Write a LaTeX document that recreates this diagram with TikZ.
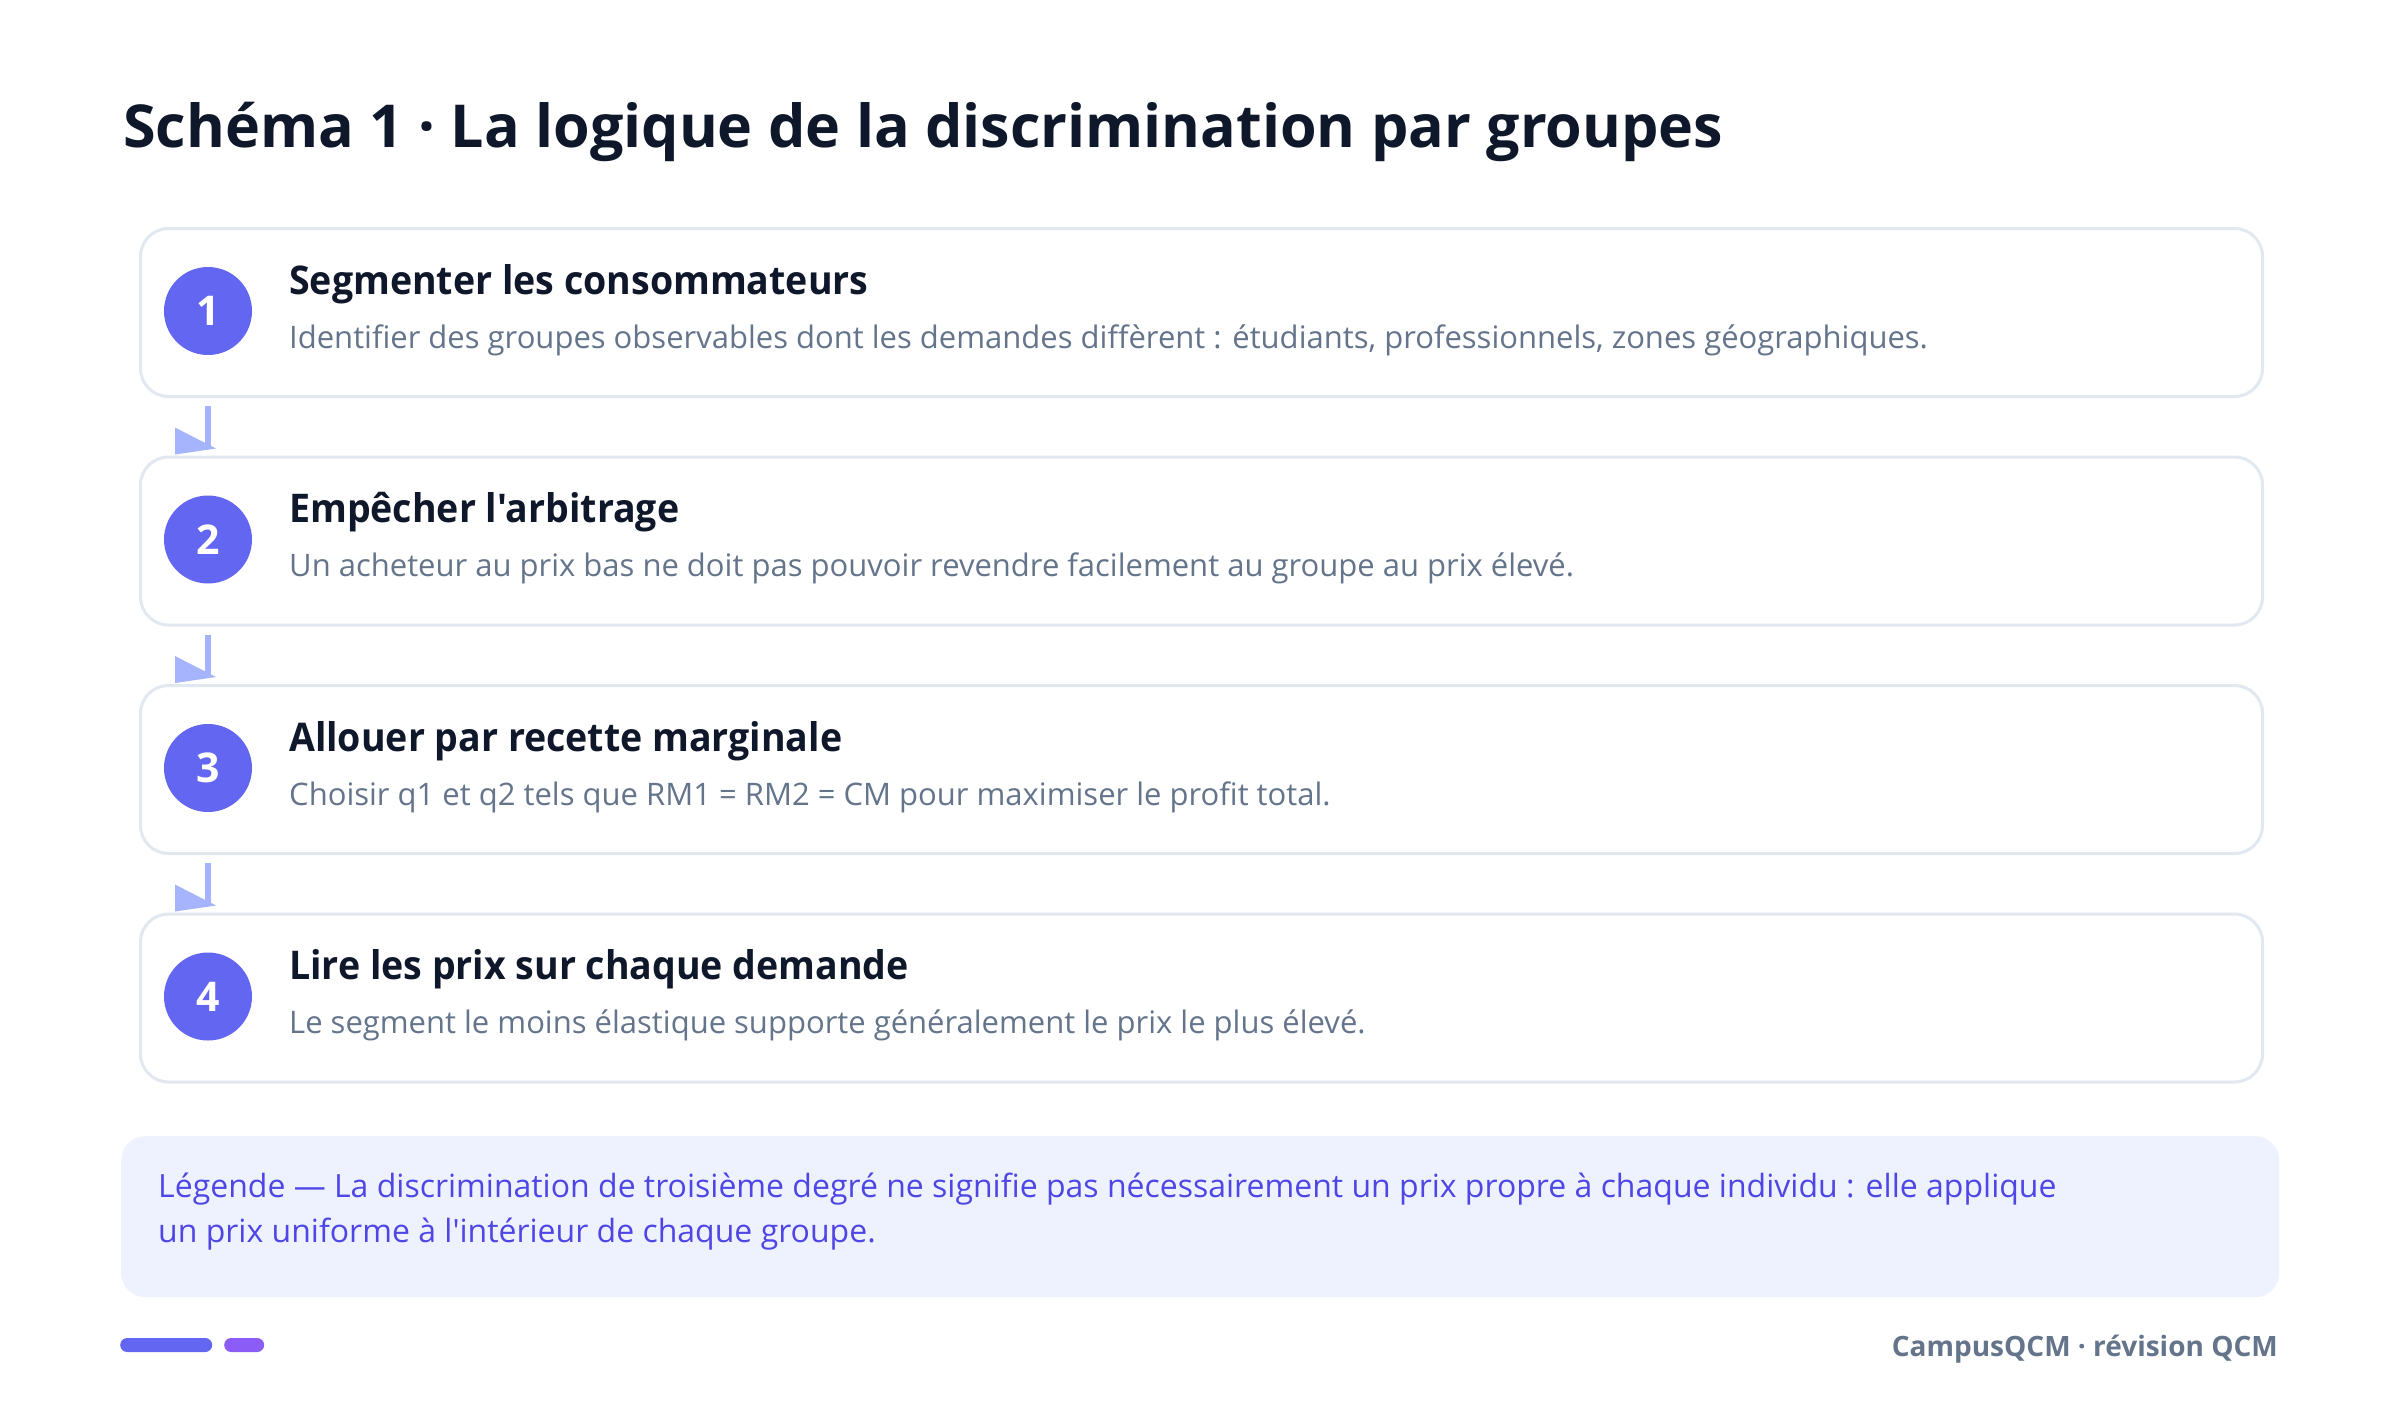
\documentclass[tikz,border=0pt]{standalone}
\usepackage{fontspec}
\setmainfont{Open Sans}[Ligatures=TeXOff]
\newfontfamily\headfont{Open Sans}[Ligatures=TeXOff, FakeStretch=0.95]
\usetikzlibrary{calc}
\definecolor{ink}{HTML}{0F172A}
\definecolor{muted}{HTML}{64748B}
\definecolor{edge}{HTML}{E2E8F0}
\definecolor{indigo}{HTML}{6366F1}
\definecolor{violet}{HTML}{8B5CF6}
\definecolor{arrowc}{HTML}{A5B4FC}
\definecolor{legfill}{HTML}{EEF2FF}
\definecolor{legtext}{HTML}{4F46E5}
\tikzset{
  stepbox/.style={draw=edge, line width=3pt, fill=white, rounded corners=28pt,
    minimum width=2122pt, minimum height=168pt, anchor=north west, inner sep=0pt},
  numdisc/.style={circle, fill=indigo, minimum size=88pt, inner sep=0pt, text=white,
    font=\fontsize{41}{41}\selectfont\bfseries},
  headtxt/.style={anchor=base west, inner sep=0pt, text=ink, font=\headfont\fontsize{39.5}{48}\selectfont\bfseries},
  desctxt/.style={anchor=base west, inner sep=0pt, text=muted, font=\fontsize{31}{38}\selectfont},
  flowline/.style={draw=arrowc, line width=6pt},
  flowhead/.style={fill=arrowc, draw=none},
}
\begin{document}
\begin{tikzpicture}[x=1pt,y=-1pt]
\useasboundingbox (0,0) rectangle (2400,1406);
\fill[white] (0,0) rectangle (2400,1406);
% title
\node[anchor=base west, inner sep=0pt, text=ink, font=\fontsize{59.2}{70}\selectfont\bfseries] (title) at (123,147)
  {Schéma 1 · La logique de la discrimination par groupes};
% boxes
\foreach \i/\t in {1/227,2/455.5,3/684,4/912.5}{
  \node[stepbox] (b\i) at (139,\t) {};
  \node[numdisc] (c\i) at (208,\t+84) {\i};
}
\node[headtxt] (h1) at (289,294) {Segmenter les consommateurs};
\node[desctxt] (d1) at (289,348) {Identifier des groupes observables dont les demandes diffèrent : étudiants, professionnels, zones géographiques.};
\node[headtxt] (h2) at (289,522.5) {Empêcher l'arbitrage};
\node[desctxt] (d2) at (289,576.5) {Un acheteur au prix bas ne doit pas pouvoir revendre facilement au groupe au prix élevé.};
\node[headtxt] (h3) at (289,751) {Allouer par recette marginale};
\node[desctxt] (d3) at (289,805) {Choisir q1 et q2 tels que RM1 = RM2 = CM pour maximiser le profit total.};
\node[headtxt] (h4) at (289,979.5) {Lire les prix sur chaque demande};
\node[desctxt] (d4) at (289,1033.5) {Le segment le moins élastique supporte généralement le prix le plus élevé.};
% connectors
\foreach \a/\b in {1/2,2/3,3/4}{
  \draw[flowline] ($(b\a.south -| c\a)+(0,8)$) -- ($(b\b.north -| c\b)+(0,-9)$);
  \path[flowhead] ($(b\b.north west)+(36,-28)$) -- ($(b\b.north west)+(36,-1)$) -- ($(b\b.north west)+(77,-7)$) -- cycle;
}
% legend
\node[fill=legfill, rounded corners=24pt, minimum width=2158pt, minimum height=161pt, anchor=north west, inner sep=0pt] (leg) at (121,1136) {};
\node[anchor=base west, inner sep=0pt, text=legtext, align=left, font=\fontsize{32}{45}\selectfont] (legt) at (158,1242)
  {Légende — La discrimination de troisième degré ne signifie pas nécessairement un prix propre à chaque individu : elle applique\\un prix uniforme à l'intérieur de chaque groupe.};
% footer
\node[fill=indigo, rounded corners=7pt, minimum width=92pt, minimum height=14pt, inner sep=0pt, anchor=west] (bar1) at (120,1345) {};
\node[fill=violet, rounded corners=7pt, minimum width=40pt, minimum height=14pt, inner sep=0pt, anchor=west] (bar2) at (224,1345) {};
\node[anchor=base east, inner sep=0pt, text=muted, font=\fontsize{28}{34}\selectfont\bfseries] (foot) at (2278,1356) {CampusQCM · révision QCM};
\end{tikzpicture}
\end{document}
